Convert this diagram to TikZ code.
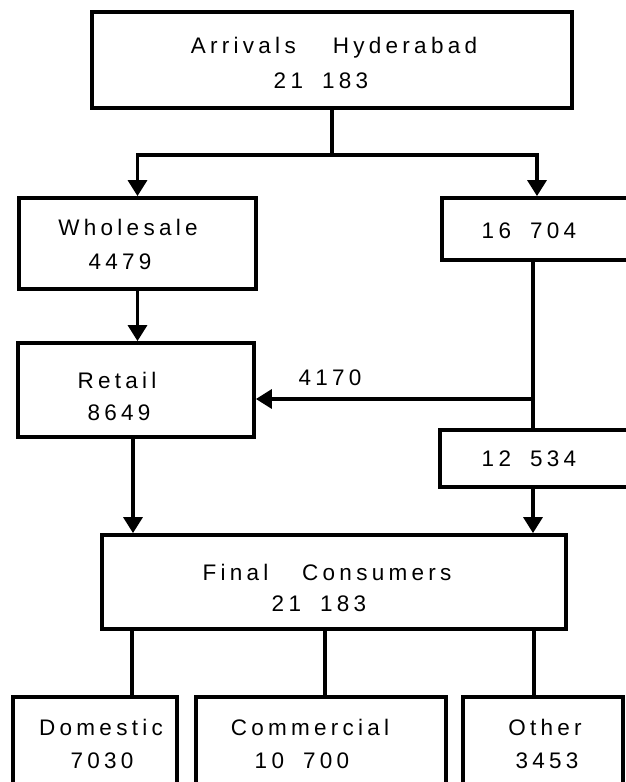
\documentclass[tikz,border=0pt]{standalone}
\usepackage{fontspec}
\setmainfont{Liberation Sans}[LetterSpace=19]
\usetikzlibrary{arrows.meta}
\newcommand\wgap{\hspace{1.65em}}
\newcommand\ngap{\hspace{0.85em}}
\begin{document}
\begin{tikzpicture}[x=1pt,y=-1pt,
  box/.style={draw, line width=3.8pt, rectangle, inner sep=0pt},
  lbl/.style={inner sep=0pt, text height=16pt, text depth=0pt, font=\fontsize{22.5}{27}\selectfont},
  conn/.style={line width=3.4pt},
  arr/.style={conn, -{Triangle[width=19pt,length=16pt]}}]
\useasboundingbox (0,0) rectangle (626,782);
\clip (0,0) rectangle (626,782);
\fill[white] (0,0) rectangle (626,782);

% boxes
\node[box, minimum width=480pt, minimum height=96pt] (top) at (332,60) {};
\node[box, minimum width=237pt, minimum height=91pt] (whole) at (137.5,243.5) {};
\node[box, minimum width=190pt, minimum height=62pt] (r16) at (537,229) {};
\node[box, minimum width=236pt, minimum height=94pt] (retail) at (136,390) {};
\node[box, minimum width=190pt, minimum height=57pt] (r12) at (535,458.5) {};
\node[box, minimum width=464pt, minimum height=94pt] (final) at (334,582) {};
\node[box, minimum width=164pt, minimum height=120pt] (dom) at (95,757) {};
\node[box, minimum width=250pt, minimum height=120pt] (com) at (321,757) {};
\node[box, minimum width=160pt, minimum height=120pt] (oth) at (543,757) {};

% texts
\node[lbl] (tTop1) at (334,45) {Arrivals\wgap Hyderabad};
\node[lbl] (tTop2) at (321,80) {21\ngap 183};
\node[lbl] (tWh1) at (128,227) {Wholesale};
\node[lbl] (tWh2) at (120,261) {4479};
\node[lbl] (t16) at (529,230) {16\ngap 704};
\node[lbl] (tRe1) at (117,380) {Retail};
\node[lbl] (tRe2) at (119,412) {8649};
\node[lbl] (t4170) at (330,377) {4170};
\node[lbl] (t12) at (529,458) {12\ngap 534};
\node[lbl] (tFi1) at (327,572) {Final\hspace{1.5em}Consumers};
\node[lbl] (tFi2) at (319,603) {21\ngap 183};
\node[lbl] (tDo1) at (101,727) {Domestic};
\node[lbl] (tDo2) at (102,760) {7030};
\node[lbl] (tCo1) at (310,727) {Commercial};
\node[lbl] (tCo2) at (302,760) {10\ngap 700};
\node[lbl] (tOt1) at (545,727) {Other};
\node[lbl] (tOt2) at (547,760) {3453};

% connectors
\coordinate (jC) at (332,155);
\coordinate (v) at (533,399);
\coordinate (s1) at (132,697);
\coordinate (s2) at (325,697);
\coordinate (s3) at (534,697);

\draw[conn] (top.south) -- (jC);
\draw[arr] (jC) -| (whole.north);
\draw[arr] (jC) -| (r16.north);
\draw[arr] (whole.south) -- (whole.south |- retail.north);
\draw[conn] (r16.south -| v) -- (r12.north -| v);
\draw[arr] (v) -- (v -| retail.east);
\draw[arr] (retail.south -| 133,0) -- (final.north -| 133,0);
\draw[arr] (r12.south -| v) -- (final.north -| v);
\draw[conn] (final.south -| s1) -- (s1);
\draw[conn] (final.south -| s2) -- (s2);
\draw[conn] (final.south -| s3) -- (s3);
\end{tikzpicture}
\end{document}
